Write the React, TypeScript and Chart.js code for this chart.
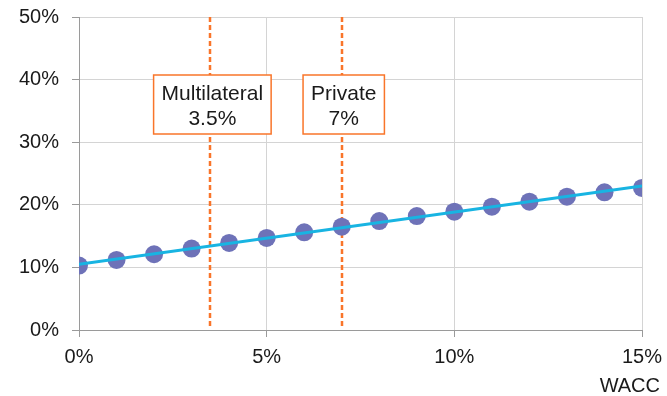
import React, { useEffect, useRef } from "react";
import { Chart, registerables } from "chart.js";

Chart.register(...registerables);

const waccValues = [0, 1, 2, 3, 4, 5, 6, 7, 8, 9, 10, 11, 12, 13, 14, 15];
const lcoeValues = [10.3, 11.2, 12.1, 13.0, 13.9, 14.7, 15.6, 16.5, 17.4, 18.2, 18.9, 19.7, 20.5, 21.3, 22.0, 22.7];
const markerValues = [3.5, 7];
const markerNames = ["Multilateral", "Private"];
const markerTexts = ["3.5%", "7%"];
const xAxisTitle = "WACC";

const FONT = "'Liberation Sans', Arial, sans-serif";
const ORANGE = "#F9752A";
const POINT = "#6E72B8";
const CYAN = "#18B4E2";

function regression(xs: number[], ys: number[]) {
  const n = xs.length;
  const mx = xs.reduce((a, b) => a + b, 0) / n;
  const my = ys.reduce((a, b) => a + b, 0) / n;
  let sxy = 0;
  let sxx = 0;
  for (let i = 0; i < n; i++) {
    sxy += (xs[i] - mx) * (ys[i] - my);
    sxx += (xs[i] - mx) * (xs[i] - mx);
  }
  const slope = sxy / sxx;
  return { slope, intercept: my - slope * mx };
}

const markerPlugin = {
  id: "markers",
  beforeDatasetsDraw(chart: any) {
    const { ctx, chartArea, scales } = chart;
    ctx.save();
    ctx.strokeStyle = ORANGE;
    ctx.lineWidth = 2.5;
    ctx.setLineDash([5, 3]);
    markerValues.forEach((v) => {
      const x = Math.round(scales.x.getPixelForValue(v));
      ctx.beginPath();
      ctx.moveTo(x, chartArea.top);
      ctx.lineTo(x, chartArea.bottom - 2);
      ctx.stroke();
    });
    ctx.restore();
  },
  afterDatasetsDraw(chart: any) {
    const { ctx, chartArea, scales } = chart;
    ctx.save();
    ctx.font = `21px ${FONT}`;
    ctx.textAlign = "center";
    ctx.textBaseline = "alphabetic";
    markerValues.forEach((v, i) => {
      const x = scales.x.getPixelForValue(v) + 2;
      const w = Math.max(ctx.measureText(markerNames[i]).width, ctx.measureText(markerTexts[i]).width) + 16;
      const top = chartArea.top + 58;
      const h = 59;
      ctx.fillStyle = "#ffffff";
      ctx.fillRect(x - w / 2, top, w, h);
      ctx.strokeStyle = ORANGE;
      ctx.lineWidth = 1.5;
      ctx.setLineDash([]);
      ctx.strokeRect(x - w / 2, top, w, h);
      ctx.fillStyle = "#1a1a1a";
      ctx.fillText(markerNames[i], x, top + 25);
      ctx.fillText(markerTexts[i], x, top + 50);
    });
    ctx.font = `20px ${FONT}`;
    ctx.textAlign = "right";
    ctx.fillStyle = "#1a1a1a";
    ctx.fillText(xAxisTitle, 660, 392);
    ctx.restore();
  },
};

export default function App() {
  const ref = useRef<HTMLCanvasElement>(null);
  useEffect(() => {
    if (!ref.current) return;
    const { slope, intercept } = regression(waccValues, lcoeValues);
    const xFirst = waccValues[0];
    const xLast = waccValues[waccValues.length - 1];
    const trend = [
      { x: xFirst, y: intercept + slope * xFirst },
      { x: xLast, y: intercept + slope * xLast },
    ];
    const chart = new Chart(ref.current, {
      type: "scatter",
      data: {
        datasets: [
          {
            label: "Trend",
            data: trend,
            showLine: true,
            borderColor: CYAN,
            borderWidth: 3,
            pointRadius: 0,
            order: 0,
          },
          {
            label: "LCOE",
            data: waccValues.map((x, i) => ({ x, y: lcoeValues[i] })),
            backgroundColor: POINT,
            borderColor: POINT,
            pointRadius: 9,
            pointBorderWidth: 0,
            order: 1,
          },
        ],
      },
      options: {
        responsive: false,
        animation: false,
        events: [],
        layout: { padding: { top: 17, right: 25, left: 0, bottom: 0 } },
        plugins: { legend: { display: false }, tooltip: { enabled: false } },
        scales: {
          x: {
            type: "linear",
            min: 0,
            max: 15,
            ticks: {
              stepSize: 5,
              padding: 8,
              color: "#1a1a1a",
              font: { family: FONT, size: 20 },
              callback: (v: any) => `${v}%`,
            },
            grid: {
              color: "#d4d4d4",
              borderDash: [2, 2],
              tickColor: "#9a9a9a",
              tickBorderDash: [],
              tickLength: 7,
            },
            border: { color: "#9a9a9a", width: 1 },
            afterFit: (s: any) => {
              s.height = 66;
              s.paddingLeft = 0;
              s.paddingRight = 0;
              s.paddingTop = 0;
              s.paddingBottom = 0;
            },
          },
          y: {
            type: "linear",
            min: 0,
            max: 50,
            ticks: {
              stepSize: 10,
              padding: 13,
              color: "#1a1a1a",
              font: { family: FONT, size: 20 },
              callback: (v: any) => `${v}%`,
            },
            grid: {
              color: "#d4d4d4",
              borderDash: [2, 2],
              tickColor: "#9a9a9a",
              tickBorderDash: [],
              tickLength: 7,
            },
            border: { color: "#9a9a9a", width: 1 },
            afterFit: (s: any) => {
              s.width = 79;
              s.paddingLeft = 0;
              s.paddingRight = 0;
              s.paddingTop = 0;
              s.paddingBottom = 0;
            },
          },
        },
      },
      plugins: [markerPlugin],
    } as any);
    return () => chart.destroy();
  }, []);
  return (
    <canvas
      ref={ref}
      width={667}
      height={396}
      style={{ position: "absolute", left: 0, top: 0, width: 667, height: 396 }}
    />
  );
}
